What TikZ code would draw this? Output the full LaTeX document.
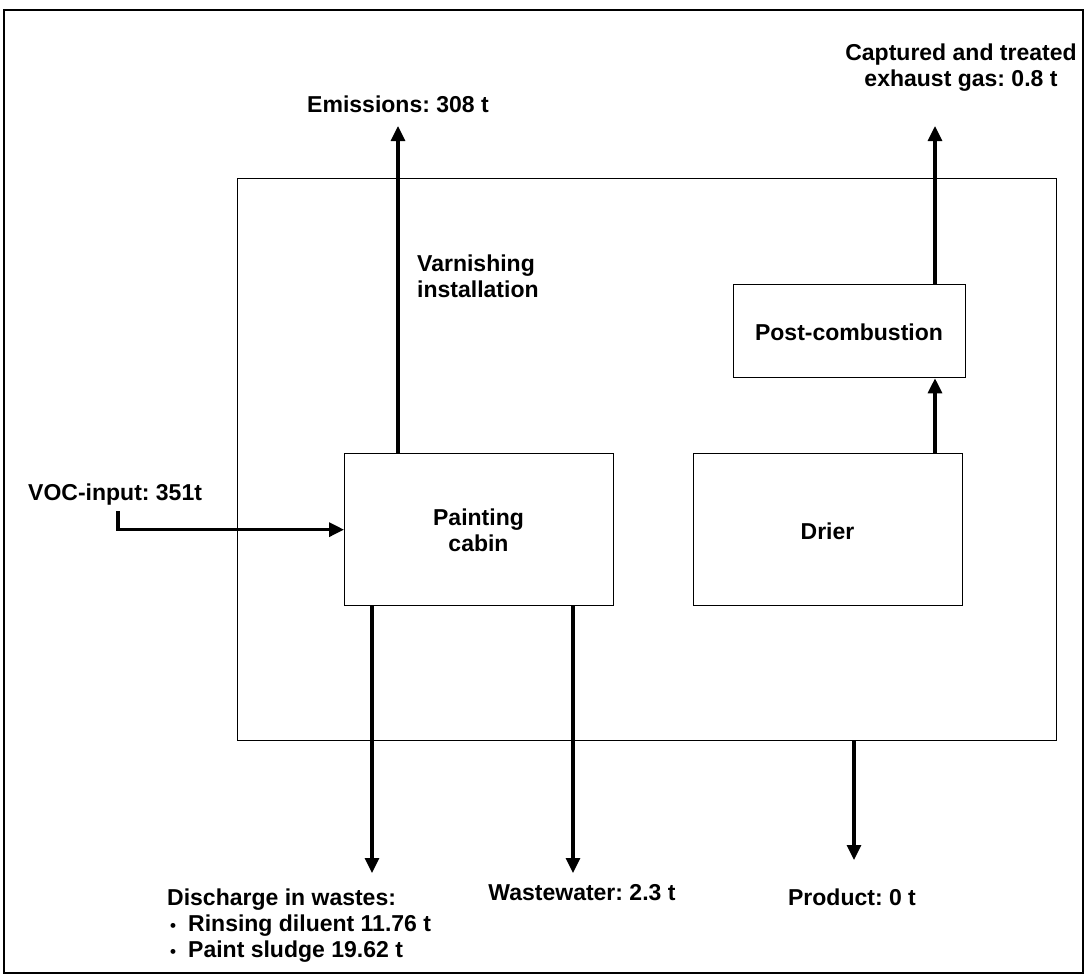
\documentclass[tikz,border=0pt]{standalone}
\usepackage{fontspec}
\setmainfont{Liberation Sans}
\usetikzlibrary{arrows.meta}
\begin{document}
\frenchspacing
\begin{tikzpicture}[x=1pt,y=-1pt,
  txt/.style={font=\bfseries\fontsize{23}{26}\selectfont\frenchspacing, inner sep=0pt, anchor=base},
  box/.style={draw, line width=1.3pt, anchor=north west, inner sep=0pt},
  flow/.style={line width=3.2pt, -{Triangle[width=14pt,length=15pt]}}
]
\useasboundingbox (0,0) rectangle (1085,975);
\draw[line width=1.8pt] (4,10) rectangle (1083,973);
% plant box
\node[box, minimum width=819pt, minimum height=562pt] (plant) at (237,178) {};
% inner boxes
\node[box, minimum width=269pt, minimum height=152pt] (cabin) at (344,453) {};
\node[txt] (cabinA) at (478.5,525) {Painting};
\node[txt] (cabinB) at (478.5,551) {cabin};
\node[box, minimum width=269pt, minimum height=152pt] (drier) at (693,453) {};
\node[txt] (drierT) at (827.5,539) {Drier};
\node[box, minimum width=232pt, minimum height=93pt] (post) at (733,284) {};
\node[txt] (postT) at (849,340) {Post-combustion};
% labels
\node[txt] (emis) at (398,112) {Emissions: 308 t};
\node[txt] (captA) at (961,60) {Captured and treated};
\node[txt] (captB) at (961,86) {exhaust gas: 0.8 t};
\node[txt, anchor=base west] (varnA) at (417,271) {Varnishing};
\node[txt, anchor=base west] (varnB) at (417,297) {installation};
\node[txt, anchor=base west] (voc) at (28,500) {VOC-input: 351t};
\node[txt, anchor=base west] (discA) at (167,905) {Discharge in wastes:};
\node[txt, anchor=base west] (bulA) at (170,931) {\fontsize{17}{20}\selectfont •};
\node[txt, anchor=base west] (discB) at (188,931) {Rinsing diluent 11.76 t};
\node[txt, anchor=base west] (bulB) at (170,957) {\fontsize{17}{20}\selectfont •};
\node[txt, anchor=base west] (discC) at (188,957) {Paint sludge 19.62 t};
\node[txt] (ww) at (582,900) {Wastewater: 2.3 t};
\node[txt] (prod) at (852,905) {Product: 0 t};
% coordinates
\coordinate (eTip) at (398,126);
\coordinate (cTip) at (935,126);
\coordinate (vocS) at (118,511);
\coordinate (w1) at (372,873);
\coordinate (w2) at (573,873);
\coordinate (pTip) at (854,860);
\coordinate (pc) at (935,0);
% connectors
\draw[flow] (eTip |- cabin.north) -- (eTip);
\draw[flow] (pc |- post.north) -- (cTip);
\draw[flow] (pc |- drier.north) -- (pc |- post.south);
\draw[flow] (vocS) |- (cabin.west);
\draw[flow] (w1 |- cabin.south) -- (w1);
\draw[flow] (w2 |- cabin.south) -- (w2);
\draw[flow] (pTip |- plant.south) -- (pTip);
\end{tikzpicture}
\end{document}
